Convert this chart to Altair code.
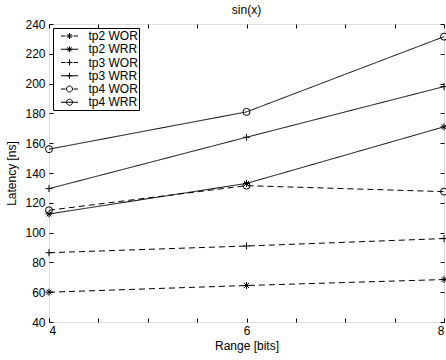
import altair as alt
import pandas as pd

range_bits = [4, 6, 8]
series_names = ["tp2 WOR", "tp2 WRR", "tp3 WOR", "tp3 WRR", "tp4 WOR", "tp4 WRR"]
tp2_wor = [60, 64.5, 68.5]
tp2_wrr = [112.5, 133, 171]
tp3_wor = [86.5, 91, 96]
tp3_wrr = [129.5, 164, 198]
tp4_wor = [115, 131.5, 127.5]
tp4_wrr = [156, 181, 231.5]
x_ticks = [4, 4.5, 5, 5.5, 6, 6.5, 7, 7.5, 8]
y_ticks = [40, 60, 80, 100, 120, 140, 160, 180, 200, 220, 240]

series_values = [tp2_wor, tp2_wrr, tp3_wor, tp3_wrr, tp4_wor, tp4_wrr]
rows = []
for name, vals in zip(series_names, series_values):
    for xv, yv in zip(range_bits, vals):
        rows.append({"series": name, "range": xv, "latency": yv})
df = pd.DataFrame(rows)

FONT = "Liberation Sans"

# marker shapes (plot)
STAR = "M-1,0L1,0M0,-1L0,1M-0.7,-0.7L0.7,0.7M-0.7,0.7L0.7,-0.7"
PLUS = "M-1,0L1,0M0,-1L0,1"
plot_shapes = [STAR, STAR, PLUS, PLUS, "circle", "circle"]
dashes = [[6, 4], [1, 0], [6, 4], [1, 0], [6, 4], [1, 0]]

# legend symbols: short line + marker
r = 0.46
m_star = f"M-{r},0L{r},0M0,-{r}L0,{r}M-{r*0.7:.3f},-{r*0.7:.3f}L{r*0.7:.3f},{r*0.7:.3f}M-{r*0.7:.3f},{r*0.7:.3f}L{r*0.7:.3f},-{r*0.7:.3f}"
m_plus = f"M-{r},0L{r},0M0,-{r}L0,{r}"
m_circ = f"M-{r},0A{r},{r},0,1,1,{r},0A{r},{r},0,1,1,-{r},0"
solid = "M-1.31,0L1.31,0"
dashed = "M-1.31,0L-0.62,0M0.62,0L1.31,0"
legend_shapes = [dashed + m_star, solid + m_star, dashed + m_plus, solid + m_plus,
                 dashed + m_circ, solid + m_circ]

xscale = alt.Scale(domain=[4, 8], nice=False, zero=False)
yscale = alt.Scale(domain=[40, 240], nice=False, zero=False)

axis_common = dict(domain=False, grid=False, tickSize=4, offset=-4, tickColor="black",
                   tickWidth=1, labelFont=FONT, labelFontSize=12, labelColor="black",
                   titleFont=FONT, titleFontSize=12, titleFontWeight="normal",
                   titleColor="black")

base = alt.Chart(df)

lines = base.mark_line(color="black", strokeWidth=1).encode(
    x=alt.X("range:Q", scale=xscale,
            axis=alt.Axis(orient="bottom", values=x_ticks, title="Range [bits]",
                          labelExpr="datum.value % 2 == 0 ? format(datum.value, 'd') : ''",
                          labelPadding=3, titlePadding=4, **axis_common)),
    y=alt.Y("latency:Q", scale=yscale,
            axis=alt.Axis(orient="left", values=y_ticks, title="Latency [ns]",
                          labelPadding=4, titlePadding=6, **axis_common)),
    strokeDash=alt.StrokeDash("series:N", scale=alt.Scale(domain=series_names, range=dashes),
                              legend=None),
)

points = base.mark_point(color="black", filled=False, size=49, strokeWidth=1, opacity=1).encode(
    x=alt.X("range:Q", scale=xscale,
            axis=alt.Axis(orient="top", values=x_ticks, labels=False, title=None, **axis_common)),
    y=alt.Y("latency:Q", scale=yscale,
            axis=alt.Axis(orient="right", values=y_ticks, labels=False, title=None, **axis_common)),
    shape=alt.Shape("series:N", scale=alt.Scale(domain=series_names, range=plot_shapes),
                    legend=None),
)

legend_layer = base.transform_filter("false").mark_point(
    color="black", filled=False, size=49, strokeWidth=1, opacity=1
).encode(
    x=alt.X("range:Q", scale=xscale, axis=None),
    y=alt.Y("latency:Q", scale=yscale, axis=None),
    shape=alt.Shape("series:N", scale=alt.Scale(domain=series_names, range=legend_shapes),
                    legend=alt.Legend(orient="none", legendX=4, legendY=4, title=None,
                                      padding=1, rowPadding=0.25, symbolSize=169,
                                      symbolOffset=8.5, labelOffset=12,
                                      symbolStrokeColor="black", symbolFillColor="transparent",
                                      symbolStrokeWidth=1, labelFont=FONT, labelFontSize=12,
                                      labelColor="black", strokeColor="black",
                                      fillColor="white",
                                      labelExpr="datum.label + '\u00a0\u00a0'")),
)

chart = alt.layer(lines, points, legend_layer).resolve_scale(
    shape="independent"
).resolve_axis(
    x="independent", y="independent"
).properties(
    width=395, height=298,
    title=alt.TitleParams("sin(x)", font=FONT, fontSize=12, fontWeight="normal",
                          color="black", offset=1),
    autosize=alt.AutoSizeParams(type="none"),
    padding={"left": 49, "top": 24, "right": 2, "bottom": 38},
).configure_view(stroke="black", strokeWidth=1).configure(background="white")

chart.save("out.html", embed_options={"renderer": "svg", "actions": False})
